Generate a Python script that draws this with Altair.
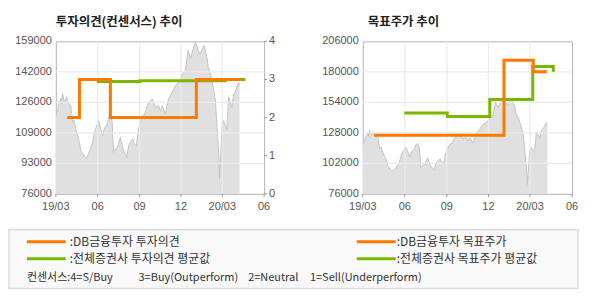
import altair as alt
import pandas as pd

# ---------------- data ----------------
PRICE_DATES = [
    "2019-03-01", "2019-03-05", "2019-03-07", "2019-03-12", "2019-03-14", "2019-03-16",
    "2019-03-19", "2019-03-21", "2019-03-25", "2019-03-29", "2019-04-03", "2019-04-07",
    "2019-04-10", "2019-04-14", "2019-04-18", "2019-04-22", "2019-04-25", "2019-04-29",
    "2019-05-04", "2019-05-08", "2019-05-12", "2019-05-17", "2019-05-21", "2019-05-25",
    "2019-05-30", "2019-06-03", "2019-06-08", "2019-06-12", "2019-06-16", "2019-06-21",
    "2019-06-25", "2019-06-29", "2019-07-03", "2019-07-06", "2019-07-09", "2019-07-13",
    "2019-07-17", "2019-07-21", "2019-07-26", "2019-07-30", "2019-08-04", "2019-08-08",
    "2019-08-12", "2019-08-17", "2019-08-21", "2019-08-25", "2019-08-30", "2019-09-03",
    "2019-09-08", "2019-09-12", "2019-09-16", "2019-09-21", "2019-09-25", "2019-09-29",
    "2019-10-06", "2019-10-13", "2019-10-17", "2019-10-21", "2019-10-28", "2019-11-04",
    "2019-11-12", "2019-11-19", "2019-11-26", "2019-11-30", "2019-12-04", "2019-12-11",
    "2019-12-17", "2019-12-22", "2019-12-28", "2020-01-02", "2020-01-08", "2020-01-12",
    "2020-01-17", "2020-01-21", "2020-01-28", "2020-01-30", "2020-02-04", "2020-02-08",
    "2020-02-10", "2020-02-15", "2020-02-18", "2020-02-20", "2020-02-23", "2020-02-24",
    "2020-02-27", "2020-02-29", "2020-03-04", "2020-03-07", "2020-03-11", "2020-03-15",
    "2020-03-18", "2020-03-22", "2020-03-26", "2020-03-29", "2020-04-02", "2020-04-06",
    "2020-04-08",
]
PRICE_VALUES = [
    118000, 121000, 124000, 128000, 125000, 130500,
    127000, 126000, 129000, 125000, 124000, 115000,
    116000, 111000, 107700, 104000, 99500, 98000,
    96000, 95500, 98000, 101000, 104000, 110000,
    113000, 116000, 111000, 107700, 112000, 113000,
    117700, 119000, 114900, 98500, 100000, 100600,
    103000, 106800, 101000, 98500, 95800, 102200,
    104000, 106000, 103000, 102200, 111500, 115000,
    118600, 119000, 122000, 125900, 126500, 127700,
    123100, 124000, 121000, 124000, 119500, 127700,
    131300, 135000, 136800, 138000, 141400, 143200,
    154100, 149500, 155000, 158600, 154100, 152000,
    155000, 156800, 149500, 145000, 141400, 136800,
    134000, 126600, 114000, 106700, 94000, 84000,
    99500, 112200, 115900, 113700, 111300, 128800,
    126600, 123000, 130300, 131300, 134000, 136800,
    135000,
]

# 투자의견 (consensus score)
OPINION_DB_DATES = ["2019-03-26", "2019-04-22", "2019-06-29", "2020-01-04", "2020-04-08"]
OPINION_DB_VALUES = [2, 3, 2, 3, 3]
OPINION_AVG_DATES = ["2019-05-30", "2019-09-02", "2020-03-08", "2020-04-21"]
OPINION_AVG_VALUES = [2.95, 2.97, 3.0, 3.0]

# 목표주가 (target price)
TARGET_DB_DATES = ["2019-03-26", "2020-01-04", "2020-03-08", "2020-04-07"]
TARGET_DB_VALUES = [126000, 190000, 180000, 180000]
TARGET_AVG_DATES = ["2019-05-31", "2019-09-02", "2019-12-04", "2020-03-07", "2020-04-21", "2020-04-21"]
TARGET_AVG_VALUES = [145000, 142000, 156500, 184500, 184500, 180000]

X_TICKS = ["2019-03-01", "2019-06-01", "2019-09-01", "2019-12-01", "2020-03-01", "2020-06-01"]
X_TICK_LABELS = ["19/03", "06", "09", "12", "20/03", "06"]
LEFT_Y_TICKS = [76000, 92600, 109200, 125800, 142400, 159000]
LEFT_Y_LABELS = ["76000", "93000", "109000", "126000", "142000", "159000"]
OPINION_TICKS = [0, 1, 2, 3, 4]
TARGET_Y_TICKS = [76000, 102000, 128000, 154000, 180000, 206000]

TITLES = ["투자의견(컨센서스) 추이", "목표주가 추이"]
LEGEND_LABELS = [
    ":DB금융투자 투자의견",
    ":DB금융투자 목표주가",
    ":전체증권사 투자의견 평균값",
    ":전체증권사 목표주가 평균값",
]
CONSENSUS_NOTES = ["컨센서스:4=S/Buy", "3=Buy(Outperform)", "2=Neutral", "1=Sell(Underperform)"]

# ---------------- styles ----------------
ORANGE = "#ff7800"
GREEN = "#7ab800"
AREA = "#e0e0e0"
PRICE_LINE = "#c4c4c4"
GRID = "#ebebeb"
FRAME = "#b4b4b4"
TICK = "#999999"
LABEL = "#555555"
KFONT = "Noto Sans CJK KR"
LFONT = "Liberation Sans"

ORIGIN = pd.Timestamp(X_TICKS[0])


def days(dates):
    return [int((pd.Timestamp(d) - ORIGIN).days) for d in dates]


TICK_DAYS = days(X_TICKS)

price_df = pd.DataFrame({"d": days(PRICE_DATES), "price": PRICE_VALUES})


def step_df(dates, values):
    return pd.DataFrame({"d": days(dates), "v": values, "i": range(len(dates))})


op_db = step_df(OPINION_DB_DATES, OPINION_DB_VALUES)
op_avg = step_df(OPINION_AVG_DATES, OPINION_AVG_VALUES)
tp_db = step_df(TARGET_DB_DATES, TARGET_DB_VALUES)
tp_avg = step_df(TARGET_AVG_DATES, TARGET_AVG_VALUES)
xtick_df = pd.DataFrame({"d": TICK_DAYS, "lab": X_TICK_LABELS})
one = pd.DataFrame({"k": [0]})

xscale = alt.Scale(domain=[TICK_DAYS[0], TICK_DAYS[-1]], nice=False, zero=False)


def x_enc():
    return alt.X("d:Q", scale=xscale, axis=None)


def x_axis_layers(height):
    ticks = alt.Chart(xtick_df).mark_rule(color=TICK, strokeWidth=1).encode(
        x=x_enc(), y=alt.value(height), y2=alt.value(height + 3))
    labels = alt.Chart(xtick_df).mark_text(
        font=LFONT, fontSize=11, color=LABEL, align="center", baseline="middle"
    ).encode(x=x_enc(), y=alt.value(height + 13), text="lab:N")
    return [ticks, labels]


def price_panel(domain, ticks, labels, height):
    ysc = alt.Scale(domain=domain, zero=False, nice=False)
    tick_df = pd.DataFrame({"v": ticks, "lab": labels})
    area = alt.Chart(price_df).mark_area(color=AREA, clip=True).encode(
        x=x_enc(), y=alt.Y("price:Q", scale=ysc, axis=None))
    line = alt.Chart(price_df).mark_line(color=PRICE_LINE, strokeWidth=1, clip=True).encode(
        x=x_enc(), y=alt.Y("price:Q", scale=ysc, axis=None))
    hgrid = alt.Chart(tick_df.iloc[1:-1]).mark_rule(color=GRID, strokeWidth=1.2).encode(
        y=alt.Y("v:Q", scale=ysc, axis=None))
    vgrid = alt.Chart(xtick_df.iloc[1:-1]).mark_rule(color=GRID, strokeWidth=1.2).encode(x=x_enc())
    ylabels = alt.Chart(tick_df).mark_text(
        font=LFONT, fontSize=11, color=LABEL, align="right", baseline="middle"
    ).encode(x=alt.value(-4), y=alt.Y("v:Q", scale=ysc, axis=None), text="lab:N")
    return alt.layer(area, line, hgrid, vgrid, ylabels, *x_axis_layers(height))


def step(df, color, ysc):
    return alt.Chart(df).mark_line(interpolate="step-after", strokeWidth=3, color=color).encode(
        x=x_enc(), y=alt.Y("v:Q", scale=ysc, axis=None), order="i:Q")


def text_at(txt, x, y, size=12, bold=False, color="#333333", font=KFONT):
    return alt.Chart(one).mark_text(
        align="left", baseline="middle", font=font, fontSize=size,
        fontWeight="bold" if bold else "normal", color=color,
    ).encode(x=alt.value(x), y=alt.value(y), text=alt.value(txt))


def seg(x1, x2, y, color):
    return alt.Chart(one).mark_rule(strokeWidth=3, color=color).encode(
        x=alt.value(x1), x2=alt.value(x2), y=alt.value(y))


# ---------------- left panel ----------------
LW, LH = 209, 153
op_scale = alt.Scale(domain=[0, 4], nice=False, zero=False)
op_tick_df = pd.DataFrame({"v": OPINION_TICKS, "lab": [str(v) for v in OPINION_TICKS]})
op_ticks = alt.Chart(op_tick_df).mark_rule(color=TICK, strokeWidth=1).encode(
    x=alt.value(LW), x2=alt.value(LW + 3), y=alt.Y("v:Q", scale=op_scale, axis=None))
op_labels = alt.Chart(op_tick_df).mark_text(
    font=LFONT, fontSize=11, color=LABEL, align="left", baseline="middle"
).encode(x=alt.value(LW + 5), y=alt.Y("v:Q", scale=op_scale, axis=None), text="lab:N")
op_layer = alt.layer(step(op_avg, GREEN, op_scale), step(op_db, ORANGE, op_scale), op_ticks, op_labels)

canvas = alt.Chart(one).mark_rect(opacity=0).encode(
    x=alt.value(-55), x2=alt.value(535), y=alt.value(-40), y2=alt.value(260))
legend_box = alt.Chart(one).mark_rect(fill="#f9f9f9", stroke="#dddddd", strokeWidth=1.5).encode(
    x=alt.value(-47), x2=alt.value(524), y=alt.value(189), y2=alt.value(248))

legend_layers = [
    legend_box,
    seg(-29, 10, 201, ORANGE), text_at(LEGEND_LABELS[0], 14, 201),
    seg(-29, 10, 218, GREEN), text_at(LEGEND_LABELS[2], 14, 218),
    seg(302, 341, 201, ORANGE), text_at(LEGEND_LABELS[1], 342, 201),
    seg(302, 341, 218, GREEN), text_at(LEGEND_LABELS[3], 342, 218),
    text_at(CONSENSUS_NOTES[0], -29, 237, size=11),
    text_at(CONSENSUS_NOTES[1], 83, 237, size=11),
    text_at(CONSENSUS_NOTES[2], 193, 237, size=11),
    text_at(CONSENSUS_NOTES[3], 255, 237, size=11),
]

left = alt.layer(
    canvas,
    alt.layer(price_panel([76000, 159000], LEFT_Y_TICKS, LEFT_Y_LABELS, LH), op_layer).resolve_scale(y="independent"),
    text_at(TITLES[0], 0, -19, size=12.5, bold=True, color="#222222"),
    *legend_layers,
).properties(width=LW, height=LH)

# ---------------- right panel ----------------
RW, RH = 210, 153
tp_scale = alt.Scale(domain=[76000, 206000], zero=False, nice=False)
right = alt.layer(
    price_panel([76000, 206000], TARGET_Y_TICKS, [str(v) for v in TARGET_Y_TICKS], RH),
    step(tp_avg, GREEN, tp_scale),
    step(tp_db, ORANGE, tp_scale),
    text_at(TITLES[1], 5, -19, size=12.5, bold=True, color="#222222"),
).properties(width=RW, height=RH)

chart = alt.hconcat(left, right, spacing=99, bounds="flush").properties(
    padding=0, background="white"
).configure_view(stroke=FRAME, strokeWidth=1)

chart.save("out.html", embed_options={"renderer": "svg", "actions": False})
